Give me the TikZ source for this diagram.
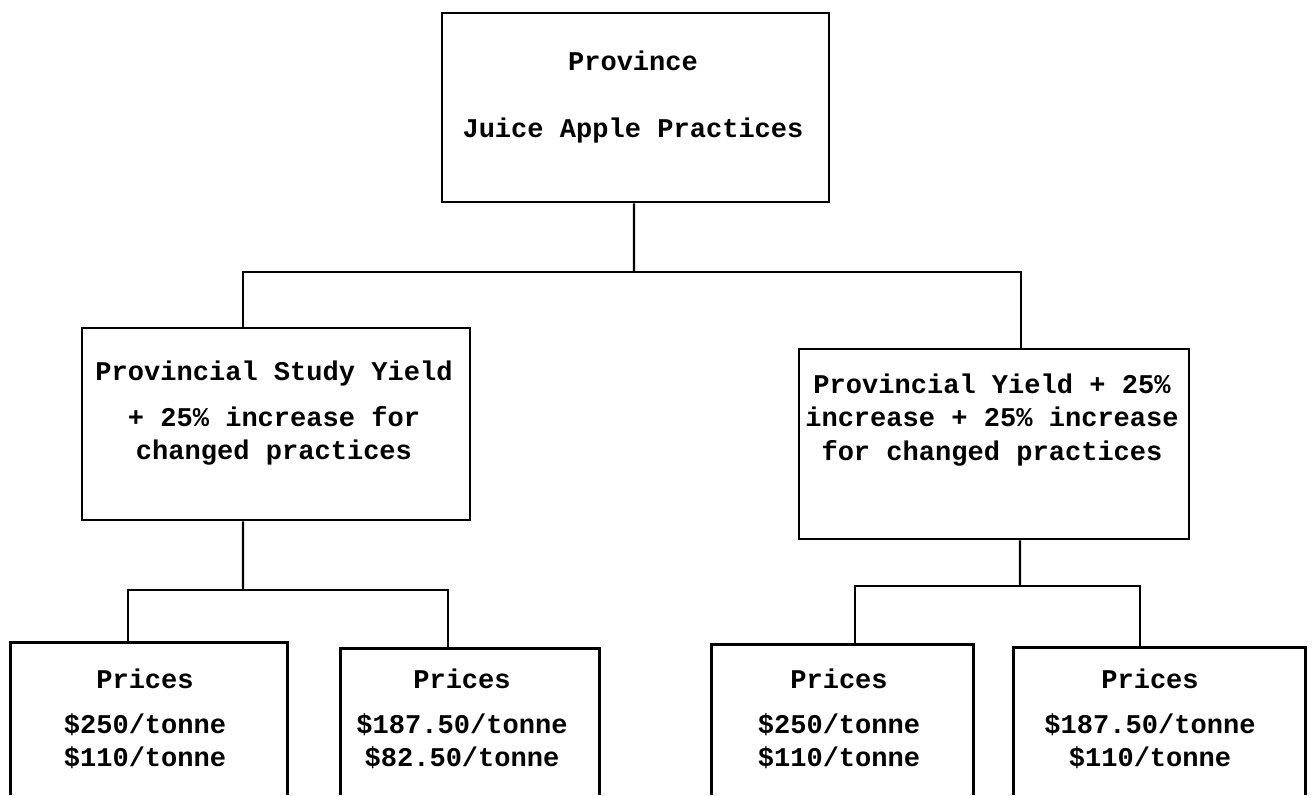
\documentclass[tikz,border=0pt]{standalone}
\usepackage{fontspec}
\setmonofont{Liberation Mono}
\usepackage{tikz}
\usetikzlibrary{positioning,calc}
\tikzset{
  tierbox/.style={draw,line width=1.6pt,inner sep=0pt},
  pricebox/.style={inner sep=0pt},
  boxtext/.style={align=center,inner sep=0pt,font=\ttfamily\bfseries\fontsize{15.4pt}{19pt}\selectfont},
  link/.style={line width=1.2pt},
  openframe/.style={line width=1.6pt}
}

\begin{document}
\begin{tikzpicture}[x=0.02cm,y=-0.02cm]
\useasboundingbox (0,0) rectangle (1312,795);
% top level
\node[tierbox,minimum width=7.74cm,minimum height=3.78cm] (top) at (635.5,107.5) {};
\node[boxtext] (topt) at (633,97) {Province\\[0.67cm]Juice Apple Practices};
% yield scenarios
\node[tierbox,minimum width=7.76cm,minimum height=3.84cm] (lbox) at (276,424) {};
\node[boxtext] (lboxt) at (274,413) {Provincial Study Yield\\[0.25cm]+ 25\% increase for\\changed practices};
\node[tierbox,minimum width=7.8cm,minimum height=3.8cm] (rbox) at (994,444) {};
\node[boxtext] (rboxt) at (992,420) {Provincial Yield + 25\%\\increase + 25\% increase\\for changed practices};
% price boxes, open at the bottom
\node[pricebox,minimum width=5.52cm,minimum height=3.04cm] (ll) at (149,719) {};
\node[pricebox,minimum width=5.16cm,minimum height=2.92cm] (lr) at (470,722) {};
\node[pricebox,minimum width=5.22cm,minimum height=3.0cm] (rl) at (842.5,720) {};
\node[pricebox,minimum width=5.82cm,minimum height=2.94cm] (rr) at (1159.5,721.5) {};
\foreach \b in {ll,lr,rl,rr}{\draw[openframe] (\b.south west) |- (\b.north) -| (\b.south east);}
\node[boxtext] (llt) at (145,719) {Prices\\[0.23cm]\$250/tonne\\\$110/tonne};
\node[boxtext] (lrt) at (462,719) {Prices\\[0.23cm]\$187.50/tonne\\\$82.50/tonne};
\node[boxtext] (rlt) at (839,719) {Prices\\[0.23cm]\$250/tonne\\\$110/tonne};
\node[boxtext] (rrt) at (1150,719) {Prices\\[0.23cm]\$187.50/tonne\\\$110/tonne};
% connectors
\coordinate (s0) at (634,272);
\coordinate (s1) at (243,590);
\coordinate (s2) at (1020,586);
\draw[link] ([xshift=-0.03cm]top.south) -- (s0);
\draw[link] ([xshift=-0.66cm]lbox.north) |- (s0) -| ([xshift=0.54cm]rbox.north);
\draw[link] ([xshift=-0.66cm]lbox.south) -- (s1);
\draw[link] ([xshift=-0.42cm]ll.north) |- (s1) -| ([xshift=-0.44cm]lr.north);
\draw[link] ([xshift=0.52cm]rbox.south) -- (s2);
\draw[link] ([xshift=0.25cm]rl.north) |- (s2) -| ([xshift=-0.39cm]rr.north);
\end{tikzpicture}
\end{document}
